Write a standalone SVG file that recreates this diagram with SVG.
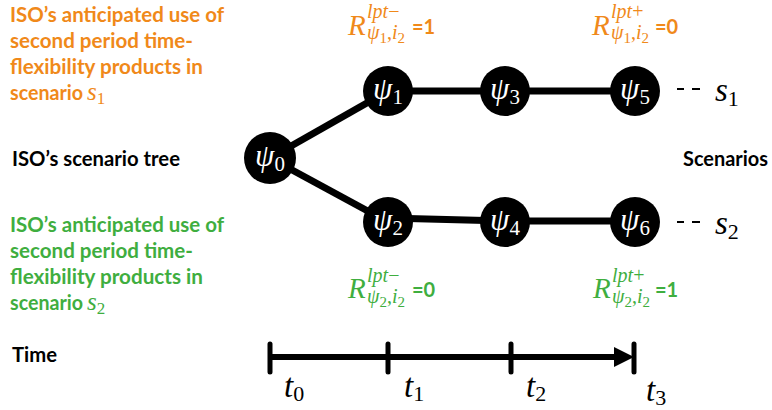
<svg xmlns="http://www.w3.org/2000/svg" width="772" height="410" viewBox="0 0 772 410">
<style>
  .lab{font-family:Lato,"Liberation Sans",sans-serif;font-weight:bold;font-size:20px}
  .or{fill:#F0891A}
  .gr{fill:#3FAE3F}
  .blk{fill:#000}
  .math{font-family:"Liberation Serif","DejaVu Serif",serif;font-style:italic}
  .up{font-style:normal}
  .node circle{fill:#000}
  .node text{fill:#fff;font-family:"Liberation Serif","DejaVu Serif",serif;font-style:italic;font-size:31px}
  .node tspan{font-style:normal;font-size:21px}
  .edge{stroke:#000;stroke-width:7;fill:none}
  .tl{stroke:#000;stroke-width:6;fill:none}
  .tick{stroke:#000;stroke-width:5;stroke-linecap:round;fill:none}
</style>
<rect width="772" height="410" fill="#fff"/>

<!-- Left labels -->
<g id="label-s1" class="lab or">
  <text x="10" y="22" textLength="214" lengthAdjust="spacingAndGlyphs">ISO’s anticipated use of</text>
  <text x="10" y="48" textLength="183" lengthAdjust="spacingAndGlyphs">second period time-</text>
  <text x="10" y="74" textLength="193" lengthAdjust="spacingAndGlyphs">flexibility products in</text>
  <text x="10" y="100" textLength="73" lengthAdjust="spacingAndGlyphs">scenario</text>
  <text x="87" y="100" class="math" style="font-weight:normal;font-size:25px">s<tspan class="up" font-size="17" dy="4">1</tspan></text>
</g>
<g id="label-tree" class="lab blk">
  <text x="12" y="166" textLength="168" lengthAdjust="spacingAndGlyphs">ISO’s scenario tree</text>
</g>
<g id="label-s2" class="lab gr">
  <text x="10" y="232" textLength="214" lengthAdjust="spacingAndGlyphs">ISO’s anticipated use of</text>
  <text x="10" y="258" textLength="183" lengthAdjust="spacingAndGlyphs">second period time-</text>
  <text x="10" y="284" textLength="193" lengthAdjust="spacingAndGlyphs">flexibility products in</text>
  <text x="10" y="310" textLength="73" lengthAdjust="spacingAndGlyphs">scenario</text>
  <text x="87" y="310" class="math" style="font-weight:normal;font-size:25px">s<tspan class="up" font-size="17" dy="4">2</tspan></text>
</g>
<g id="label-time" class="lab blk">
  <text x="12" y="362" textLength="45" lengthAdjust="spacingAndGlyphs">Time</text>
</g>
<g id="label-scenarios" class="lab blk">
  <text x="683" y="166" textLength="85" lengthAdjust="spacingAndGlyphs">Scenarios</text>
</g>

<!-- R labels -->
<g id="r-top-left" class="or">
  <text x="348" y="35" class="math" font-size="29">R</text>
  <text x="367" y="18" class="math" font-size="20">lpt<tspan class="up">−</tspan></text>
  <text x="367" y="39" class="math" font-size="20">ψ<tspan class="up" font-size="15" dy="4">1</tspan><tspan class="up" dy="-4">,</tspan>i<tspan class="up" font-size="15" dy="4">2</tspan></text>
  <text x="412" y="34" class="lab">=1</text>
</g>
<g id="r-top-right" class="or">
  <text x="592" y="35" class="math" font-size="29">R</text>
  <text x="611" y="18" class="math" font-size="20">lpt<tspan class="up">+</tspan></text>
  <text x="611" y="39" class="math" font-size="20">ψ<tspan class="up" font-size="15" dy="4">1</tspan><tspan class="up" dy="-4">,</tspan>i<tspan class="up" font-size="15" dy="4">2</tspan></text>
  <text x="655" y="34" class="lab">=0</text>
</g>
<g id="r-bottom-left" class="gr">
  <text x="348" y="298" class="math" font-size="29">R</text>
  <text x="367" y="282" class="math" font-size="20">lpt<tspan class="up">−</tspan></text>
  <text x="367" y="303" class="math" font-size="20">ψ<tspan class="up" font-size="15" dy="4">2</tspan><tspan class="up" dy="-4">,</tspan>i<tspan class="up" font-size="15" dy="4">2</tspan></text>
  <text x="412" y="297" class="lab">=0</text>
</g>
<g id="r-bottom-right" class="gr">
  <text x="593" y="298" class="math" font-size="29">R</text>
  <text x="612" y="282" class="math" font-size="20">lpt<tspan class="up">+</tspan></text>
  <text x="612" y="303" class="math" font-size="20">ψ<tspan class="up" font-size="15" dy="4">2</tspan><tspan class="up" dy="-4">,</tspan>i<tspan class="up" font-size="15" dy="4">2</tspan></text>
  <text x="655" y="297" class="lab">=1</text>
</g>

<!-- Connectors -->
<g id="connectors">
  <line class="edge" x1="270" y1="158" x2="388" y2="91"/>
  <line class="edge" x1="270" y1="158" x2="388" y2="222"/>
  <line class="edge" x1="388" y1="91" x2="635" y2="91"/>
  <line class="edge" x1="388" y1="218" x2="505" y2="221"/>
  <line class="edge" x1="505" y1="221" x2="635" y2="221"/>
</g>

<!-- Nodes -->
<g id="psi0" class="node"><circle cx="270" cy="158" r="26"/><text x="270" y="166" text-anchor="middle">ψ<tspan dy="5">0</tspan></text></g>
<g id="psi1" class="node"><circle cx="388" cy="91" r="25"/><text x="388" y="99" text-anchor="middle">ψ<tspan dy="5">1</tspan></text></g>
<g id="psi2" class="node"><circle cx="388" cy="222" r="25"/><text x="388" y="230" text-anchor="middle">ψ<tspan dy="5">2</tspan></text></g>
<g id="psi3" class="node"><circle cx="505" cy="91" r="25"/><text x="505" y="99" text-anchor="middle">ψ<tspan dy="5">3</tspan></text></g>
<g id="psi4" class="node"><circle cx="505" cy="222" r="25"/><text x="505" y="230" text-anchor="middle">ψ<tspan dy="5">4</tspan></text></g>
<g id="psi5" class="node"><circle cx="635" cy="91" r="25"/><text x="635" y="99" text-anchor="middle">ψ<tspan dy="5">5</tspan></text></g>
<g id="psi6" class="node"><circle cx="635" cy="222" r="25"/><text x="635" y="230" text-anchor="middle">ψ<tspan dy="5">6</tspan></text></g>

<!-- Scenario markers -->
<g id="scen-s1">
  <line x1="677" y1="89" x2="684" y2="89" stroke="#000" stroke-width="2"/>
  <line x1="692" y1="89" x2="700" y2="89" stroke="#000" stroke-width="2"/>
  <text x="715" y="101" class="math" font-size="33">s<tspan class="up" font-size="22" dy="5">1</tspan></text>
</g>
<g id="scen-s2">
  <line x1="677" y1="222" x2="684" y2="222" stroke="#000" stroke-width="2"/>
  <line x1="692" y1="222" x2="700" y2="222" stroke="#000" stroke-width="2"/>
  <text x="715" y="234" class="math" font-size="33">s<tspan class="up" font-size="22" dy="5">2</tspan></text>
</g>

<!-- Timeline -->
<g id="timeline">
  <line class="tl" x1="270" y1="357" x2="618" y2="357"/>
  <polygon points="614,347 634,357 614,367" fill="#000"/>
  <line class="tick" x1="270" y1="344" x2="270" y2="372"/>
  <line class="tick" x1="388" y1="344" x2="388" y2="372"/>
  <line class="tick" x1="511" y1="344" x2="511" y2="372"/>
  <line class="tick" x1="634" y1="344" x2="634" y2="372"/>
  <text x="284" y="397" class="math" font-size="33">t<tspan class="up" font-size="22" dy="4">0</tspan></text>
  <text x="404" y="397" class="math" font-size="33">t<tspan class="up" font-size="22" dy="4">1</tspan></text>
  <text x="526" y="397" class="math" font-size="33">t<tspan class="up" font-size="22" dy="4">2</tspan></text>
  <text x="646" y="401" class="math" font-size="33">t<tspan class="up" font-size="22" dy="4">3</tspan></text>
</g>
</svg>
